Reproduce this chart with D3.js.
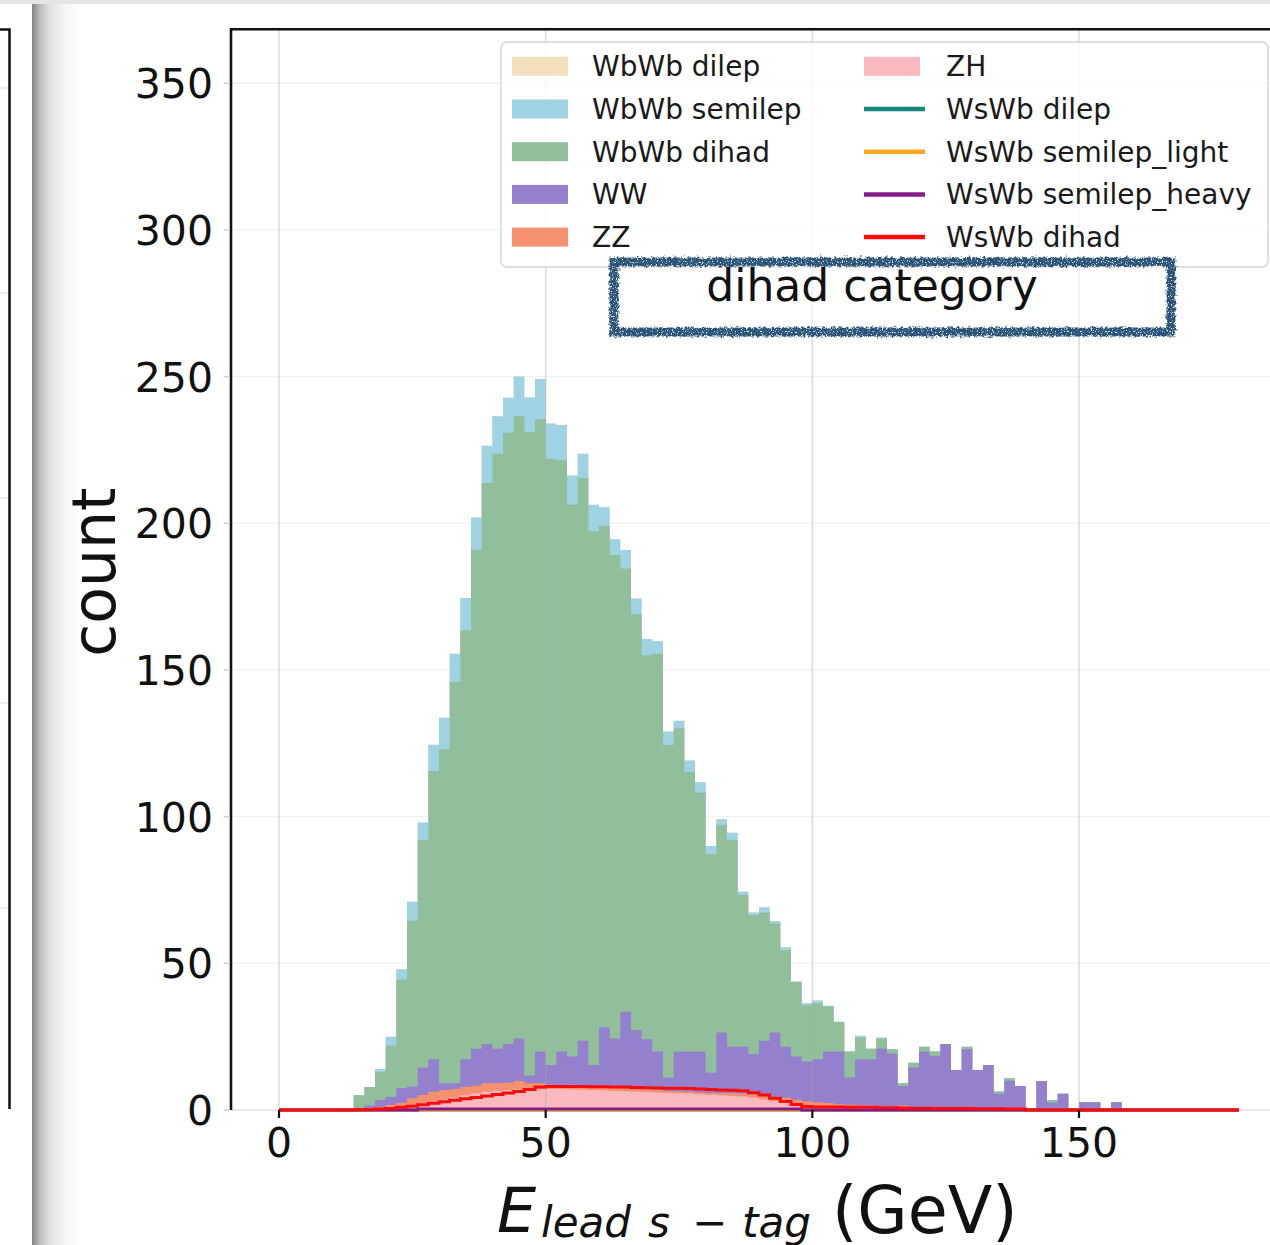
<!DOCTYPE html>
<html>
<head>
<meta charset="utf-8">
<script src="https://cdn.jsdelivr.net/npm/d3@7"></script>
<style>
  html, body { margin: 0; padding: 0; background: #fff; }
  svg { display: block; font-family: "DejaVu Sans", sans-serif; }
</style>
</head>
<body>
<svg id="chart" width="1270" height="1245"></svg>
<script>
// Histogram binning: 90 bins of 2 GeV covering 0–180 GeV
const binWidth = 2;
const histMin = 0;
const histMax = 180;

// Stacked backgrounds, counts per bin (rows of 10 bins)
const wbwbDilep = [
  0,0,0,0,0,0,0,0,0,0,
  0,0,0,0,0,0,0,0,0,0,
  0,0,0,0,0,0,0,0,0,0,
  0,0,0,0,0,0,0,0,0,0,
  0,0,0,0,0,0,0,0,0,0,
  0,0,0,0,0,0,0,0,0,0,
  0,0,0,0,0,0,0,0,0,0,
  0,0,0,0,0,0,0,0,0,0,
  0,0,0,0,0,0,0,0,0,0
];
const wbwbSemilep = [
  0,0,0,0,0,0,0,0,0,1.0,
  3.0,3.5,6.5,6.0,8.9,10.7,9.5,11.0,11.0,12.7,
  12.8,11.9,13.5,11.7,13.7,12.0,12.0,9.9,8.3,9.0,
  6.3,5.4,6.3,5.4,5.6,4.3,4.6,2.6,3.8,3.5,
  2.7,1.9,2.5,1.1,0.8,1.8,0.8,1.0,0.2,0.8,
  0.9,0.2,0.1,0,0.6,0.2,0.3,0,0,0,
  0,0,0,0,0,0,0,0,0,0,
  0,0,0,0,0,0,0,0,0,0,
  0,0,0,0,0,0,0,0,0,0
];
const wbwbDihad = [
  0,0,0,0,0,0,0,4.5,6.3,9.6,
  17.5,37.0,56.5,77.5,98.3,113.9,136.9,146.2,170.1,191.2,
  202.8,208.4,212.1,219.4,215.6,206.7,201.6,188.2,191.8,182.0,
  171.0,164.8,151.1,141.7,130.9,135.6,113.4,110.2,95.4,88.3,
  74.6,70.8,70.4,51.7,47.4,43.7,37.2,32.9,25.4,19.1,
  19.1,15.4,10.1,8.8,7.4,3.5,3.4,1.4,0.9,1.6,
  1.7,1.5,0,0,0.9,0,0,0.8,0.8,0,
  0,0,0.9,0,0,0,0,0,0,0,
  0,0,0,0,0,0,0,0,0,0
];
const ww = [
  0,0,0,0,0,0,0,0.5,1.0,2.4,
  2.8,5.0,4.0,9.4,11.1,2.3,1.9,9.5,12.6,13.4,
  11.8,13.2,14.5,2.7,10.8,6.7,11.4,9.6,15.4,7.3,
  20.2,16.8,26.1,20.1,17.1,12.9,4.5,13.6,13.7,13.9,
  6.9,20.6,15.9,16.0,13.7,18.6,21.9,17.4,14.7,13.5,
  14.7,17.5,17.9,9.3,15.7,15.8,19.7,18.1,6.7,13.5,
  19.0,17.6,21.5,12.9,19.9,13.1,14.7,5.0,9.6,7.6,
  0,9.9,2.5,5.5,0,2.6,2.6,0,2.6,0,
  0,0,0,0,0,0,0,0,0,0
];
const zz = [
  0,0,0,0,0,0,0,0,0.3,0.6,
  1.1,1.5,2.5,2.9,3.2,3.2,3.0,2.8,2.7,2.9,
  2.5,2.5,2.9,2.1,2.0,1.4,1.4,1.6,1.3,1.2,
  1.3,1.1,1.0,1.0,0.9,1.0,0.7,0.6,0.6,0.6,
  0.6,0.8,0.9,1.0,1.2,1.4,1.5,1.8,1.7,1.7,
  1.6,1.6,1.4,1.3,1.2,1.2,1.0,1.0,1.3,0.8,
  0.8,0.7,0.9,0.6,0.7,0.5,0.6,0.5,0.4,0.6,
  0,0,0,0,0,0,0,0,0,0,
  0,0,0,0,0,0,0,0,0,0
];
const zh = [
  0,0,0,0,0,0,0,0,0.2,0.4,
  0.6,1.0,1.5,2.2,3.0,3.6,4.2,5.0,5.6,6.2,
  6.6,6.8,7.0,7.0,7.1,7.2,7.1,7.0,6.9,6.8,
  6.7,6.5,6.4,6.2,6.1,6.0,5.8,5.7,5.6,5.4,
  5.2,5.0,4.8,4.6,4.2,3.6,3.0,2.4,1.8,1.3,
  1.0,0.8,0.6,0.5,0.4,0.3,0.3,0.2,0.2,0.2,
  0.1,0.1,0.1,0.1,0.1,0,0,0,0,0,
  0,0,0,0,0,0,0,0,0,0,
  0,0,0,0,0,0,0,0,0,0
];

// Signal samples, drawn as unstacked step outlines
const wswbDilep = [
  0,0,0,0,0,0,0,0,0,0,
  0,0,0,0,0,0,0,0,0,0,
  0,0,0,0,0,0,0,0,0,0,
  0,0,0,0,0,0,0,0,0,0,
  0,0,0,0,0,0,0,0,0,0,
  0,0,0,0,0,0,0,0,0,0,
  0,0,0,0,0,0,0,0,0,0,
  0,0,0,0,0,0,0,0,0,0,
  0,0,0,0,0,0,0,0,0,0
];
const wswbSemilepLight = [
  0,0,0,0,0,0,0,0,0,0,
  0,0,0,0,0,0,0,0,0,0,
  0,0,0,0,0,0,0,0,0,0,
  0,0,0,0,0,0,0,0,0,0,
  0,0,0,0,0,0,0,0,0,0,
  0,0,0,0,0,0,0,0,0,0,
  0,0,0,0,0,0,0,0,0,0,
  0,0,0,0,0,0,0,0,0,0,
  0,0,0,0,0,0,0,0,0,0
];
const wswbSemilepHeavy = [
  0,0,0,0,0,0,0,0,0,0,
  0,0,0,0.3,0.3,0.3,0.3,0.3,0.3,0.3,
  0.3,0.3,0.3,0.3,0.3,0.3,0.3,0.3,0.3,0.3,
  0.3,0.3,0.3,0.3,0.3,0.3,0.3,0.3,0.3,0.3,
  0.3,0.3,0.3,0.3,0.3,0.3,0.3,0.3,0.3,0,
  0,0,0,0,0,0,0,0,0,0,
  0,0,0,0,0,0,0,0,0,0,
  0,0,0,0,0,0,0,0,0,0,
  0,0,0,0,0,0,0,0,0,0
];
const wswbDihad = [
  0,0,0,0,0,0,0,0.1,0.2,0.3,
  0.5,0.9,1.3,1.8,2.3,2.8,3.3,3.8,4.3,4.8,
  5.3,5.8,6.3,7.0,7.8,8.0,8.0,8.0,8.0,7.9,
  7.9,7.8,7.8,7.7,7.6,7.5,7.4,7.4,7.3,7.2,
  7.0,6.8,6.7,6.6,5.9,5.1,4.0,2.9,1.9,1.2,
  1.0,1.0,1.0,0.9,0.9,0.9,0.8,0.8,0.7,0.6,
  0.6,0.5,0.5,0.5,0.5,0.4,0.4,0.4,0.3,0.3,
  0,0,0,0,0,0,0,0,0,0,
  0,0,0,0,0,0,0,0,0,0
];

const xTicks = [0, 50, 100, 150];
const yTicks = [0, 50, 100, 150, 200, 250, 300, 350];
const xLabelMain = "E";
const xLabelSub = ["lead", "s", "\u2212", "tag"];
const xLabelUnit = "(GeV)";
const yLabel = "count";
const categoryLabel = "dihad category";

// Stack order bottom → top, and legend order
const stackKeys = ["ZH", "ZZ", "WW", "WbWb dihad", "WbWb semilep", "WbWb dilep"];
const stackData = {
  "ZH": zh, "ZZ": zz, "WW": ww,
  "WbWb dihad": wbwbDihad, "WbWb semilep": wbwbSemilep, "WbWb dilep": wbwbDilep
};
const fillColor = {
  "WbWb dilep": "#f5e0bd",
  "WbWb semilep": "#9fd3e4",
  "WbWb dihad": "#92bf9b",
  "WW": "#9480cc",
  "ZZ": "#f5916e",
  "ZH": "#fab8bf"
};
const lineKeys = ["WsWb dilep", "WsWb semilep_light", "WsWb semilep_heavy", "WsWb dihad"];
const lineData = {
  "WsWb dilep": wswbDilep,
  "WsWb semilep_light": wswbSemilepLight,
  "WsWb semilep_heavy": wswbSemilepHeavy,
  "WsWb dihad": wswbDihad
};
const lineColor = {
  "WsWb dilep": "#16877f",
  "WsWb semilep_light": "#ffa81c",
  "WsWb semilep_heavy": "#861a8c",
  "WsWb dihad": "#ff0a0a"
};
const legendFillKeys = ["WbWb dilep", "WbWb semilep", "WbWb dihad", "WW", "ZZ"];
const legendCol2Keys = ["ZH", "WsWb dilep", "WsWb semilep_light", "WsWb semilep_heavy", "WsWb dihad"];

const svg = d3.select("#chart");
const defs = svg.append("defs");

// ---- window chrome: top strip, neighbouring panel, drop shadow ----
svg.append("rect").attr("x", 0).attr("y", 0).attr("width", 1270).attr("height", 4).attr("fill", "#e5e5e5");

const shade = defs.append("linearGradient").attr("id", "shade").attr("x1", 0).attr("x2", 1).attr("y1", 0).attr("y2", 0);
[[0, "#858585"], [0.06, "#999"], [0.16, "#bdbdbd"], [0.36, "#e2e2e2"], [0.7, "#f7f7f7"], [1, "#fff"]]
  .forEach(([o, c]) => shade.append("stop").attr("offset", o).attr("stop-color", c));
svg.append("rect").attr("x", 32).attr("y", 4).attr("width", 50).attr("height", 1241).attr("fill", "url(#shade)");

// neighbouring axes frame (right and top spine only)
[88, 293, 498, 703, 908].forEach(v =>
  svg.append("line").attr("x1", 0).attr("x2", 8).attr("y1", v).attr("y2", v).attr("stroke", "#e2e2e2").attr("stroke-width", 1.2));
svg.append("path").attr("d", "M0,29.5H9.5V1109").attr("fill", "none").attr("stroke", "#111").attr("stroke-width", 2.5);

// ---- main axes ----
const x = d3.scaleLinear().domain([-9, 189]).range([231, 1287]);
const y = d3.scaleLinear().domain([0, 368.5]).range([1110, 29]);

const plot = svg.append("g");

// horizontal grid (beneath bars)
plot.selectAll("line.hgrid").data(yTicks).join("line")
  .attr("class", "hgrid")
  .attr("x1", x(-9)).attr("x2", 1270)
  .attr("y1", d => y(d)).attr("y2", d => y(d))
  .attr("stroke", d => d === 0 ? "#e2e2e2" : "#f1f1f1").attr("stroke-width", 1.3);

// Build per-bin rows (bin low edge) plus a closing row at the upper edge
const rows = d3.range(histMin, histMax, binWidth).map((e, i) => {
  const r = { e };
  stackKeys.forEach(k => r[k] = stackData[k][i]);
  return r;
});
rows.push(Object.assign({}, rows[rows.length - 1], { e: histMax }));

const stacked = d3.stack().keys(stackKeys)(rows);

// each layer painted from zero up to its cumulative top, top layer first
const area = d3.area()
  .curve(d3.curveStepAfter)
  .x(d => x(d.data.e))
  .y0(y(0))
  .y1(d => y(d[1]));

plot.selectAll("path.layer").data(stacked.slice().reverse()).join("path")
  .attr("class", "layer")
  .attr("d", area)
  .attr("fill", d => fillColor[d.key]);

// vertical grid drawn over the bars
plot.selectAll("line.vgrid").data(xTicks).join("line")
  .attr("class", "vgrid")
  .attr("x1", d => x(d)).attr("x2", d => x(d))
  .attr("y1", y(368.5)).attr("y2", y(0))
  .attr("stroke", "#a9a9a9").attr("stroke-opacity", 0.42).attr("stroke-width", 1.5);

// signal step outlines
const stepLine = d3.line()
  .curve(d3.curveStepAfter)
  .x(d => x(d[0]))
  .y(d => y(d[1]));

lineKeys.forEach(k => {
  const vals = lineData[k];
  const pts = vals.map((v, i) => [histMin + i * binWidth, v]);
  pts.push([histMax, vals[vals.length - 1]]);
  plot.append("path")
    .attr("d", stepLine(pts))
    .attr("fill", "none")
    .attr("stroke", lineColor[k])
    .attr("stroke-width", 3)
    .attr("stroke-linejoin", "miter");
});

// spines
svg.append("line").attr("x1", 231).attr("x2", 231).attr("y1", 28).attr("y2", 1110)
  .attr("stroke", "#111").attr("stroke-width", 2.6);
svg.append("line").attr("x1", 230).attr("x2", 1270).attr("y1", 29.2).attr("y2", 29.2)
  .attr("stroke", "#111").attr("stroke-width", 2.6);

// y ticks + labels
const yAxis = svg.append("g");
yAxis.selectAll("line").data(yTicks).join("line")
  .attr("x1", 224).attr("x2", 230)
  .attr("y1", d => y(d)).attr("y2", d => y(d))
  .attr("stroke", "#d0d0d0").attr("stroke-width", 1.5);
yAxis.selectAll("text").data(yTicks).join("text")
  .attr("x", 213).attr("y", d => y(d) + 15)
  .attr("text-anchor", "end")
  .attr("font-size", 41).attr("fill", "#111")
  .text(d => d);

// x ticks + labels
const xAxis = svg.append("g");
xAxis.selectAll("line").data(xTicks).join("line")
  .attr("x1", d => x(d)).attr("x2", d => x(d))
  .attr("y1", 1110).attr("y2", 1118)
  .attr("stroke", "#111").attr("stroke-width", 2.2);
xAxis.selectAll("text").data(xTicks).join("text")
  .attr("x", d => x(d)).attr("y", 1157)
  .attr("text-anchor", "middle")
  .attr("font-size", 41).attr("fill", "#111")
  .text(d => d);

// axis titles
svg.append("text")
  .attr("transform", "translate(115,572) rotate(-90)")
  .attr("text-anchor", "middle")
  .attr("font-size", 60).attr("fill", "#111")
  .text(yLabel);

const xt = svg.append("g").attr("fill", "#111");
xt.append("text").attr("x", 497).attr("y", 1232)
  .attr("font-size", 62).attr("font-style", "italic").text(xLabelMain);
const subX = [541, 648, 692, 742];
xLabelSub.forEach((s, i) => {
  xt.append("text").attr("x", subX[i]).attr("y", 1237)
    .attr("font-size", 42)
    .attr("font-style", s === "\u2212" ? "normal" : "italic")
    .text(s);
});
xt.append("text").attr("x", 832).attr("y", 1233)
  .attr("font-size", 65).text(xLabelUnit);

// ---- legend ----
const lg = svg.append("g");
lg.append("rect").attr("x", 501).attr("y", 42).attr("width", 767).attr("height", 225).attr("rx", 6)
  .attr("fill", "#fff").attr("fill-opacity", 0.82)
  .attr("stroke", "#d6d6d6").attr("stroke-width", 1.5);

const rowY = i => 66.3 + i * 42.7;
legendFillKeys.forEach((k, i) => {
  lg.append("rect").attr("x", 512).attr("y", rowY(i) - 9.5).attr("width", 56).attr("height", 19)
    .attr("fill", fillColor[k]);
  lg.append("text").attr("x", 592).attr("y", rowY(i) + 10)
    .attr("font-size", 28).attr("fill", "#1a1a1a").text(k);
});
legendCol2Keys.forEach((k, i) => {
  if (fillColor[k]) {
    lg.append("rect").attr("x", 864).attr("y", rowY(i) - 9.5).attr("width", 56).attr("height", 19)
      .attr("fill", fillColor[k]);
  } else {
    lg.append("line").attr("x1", 864).attr("x2", 925).attr("y1", rowY(i)).attr("y2", rowY(i))
      .attr("stroke", lineColor[k]).attr("stroke-width", 4.5);
  }
  lg.append("text").attr("x", 946).attr("y", rowY(i) + 10)
    .attr("font-size", 28).attr("fill", "#1a1a1a").text(k);
});

// ---- category tag with a rough, stamped frame ----
const rough = defs.append("filter").attr("id", "rough")
  .attr("x", "-3%").attr("y", "-15%").attr("width", "106%").attr("height", "130%");
rough.append("feTurbulence").attr("type", "fractalNoise").attr("baseFrequency", 0.35)
  .attr("numOctaves", 3).attr("seed", 7).attr("result", "noise");
rough.append("feDisplacementMap").attr("in", "SourceGraphic").attr("in2", "noise")
  .attr("scale", 6).attr("xChannelSelector", "R").attr("yChannelSelector", "G").attr("result", "disp");
rough.append("feTurbulence").attr("type", "fractalNoise").attr("baseFrequency", 0.8)
  .attr("numOctaves", 1).attr("seed", 3).attr("result", "speck");
rough.append("feColorMatrix").attr("in", "speck").attr("type", "matrix")
  .attr("values", "0 0 0 0 0  0 0 0 0 0  0 0 0 0 0  0 0 0 -6 4.4").attr("result", "mask");
rough.append("feComposite").attr("in", "disp").attr("in2", "mask").attr("operator", "in");

svg.append("rect").attr("x", 614).attr("y", 262).attr("width", 557).attr("height", 70)
  .attr("fill", "#fff").attr("fill-opacity", 0.55);
svg.append("rect").attr("x", 614).attr("y", 262).attr("width", 557).attr("height", 70)
  .attr("fill", "none").attr("stroke", "#2c5378").attr("stroke-width", 9)
  .attr("filter", "url(#rough)");
svg.append("text").attr("x", 872).attr("y", 301)
  .attr("text-anchor", "middle").attr("font-size", 44).attr("fill", "#111")
  .text(categoryLabel);
</script>
</body>
</html>
